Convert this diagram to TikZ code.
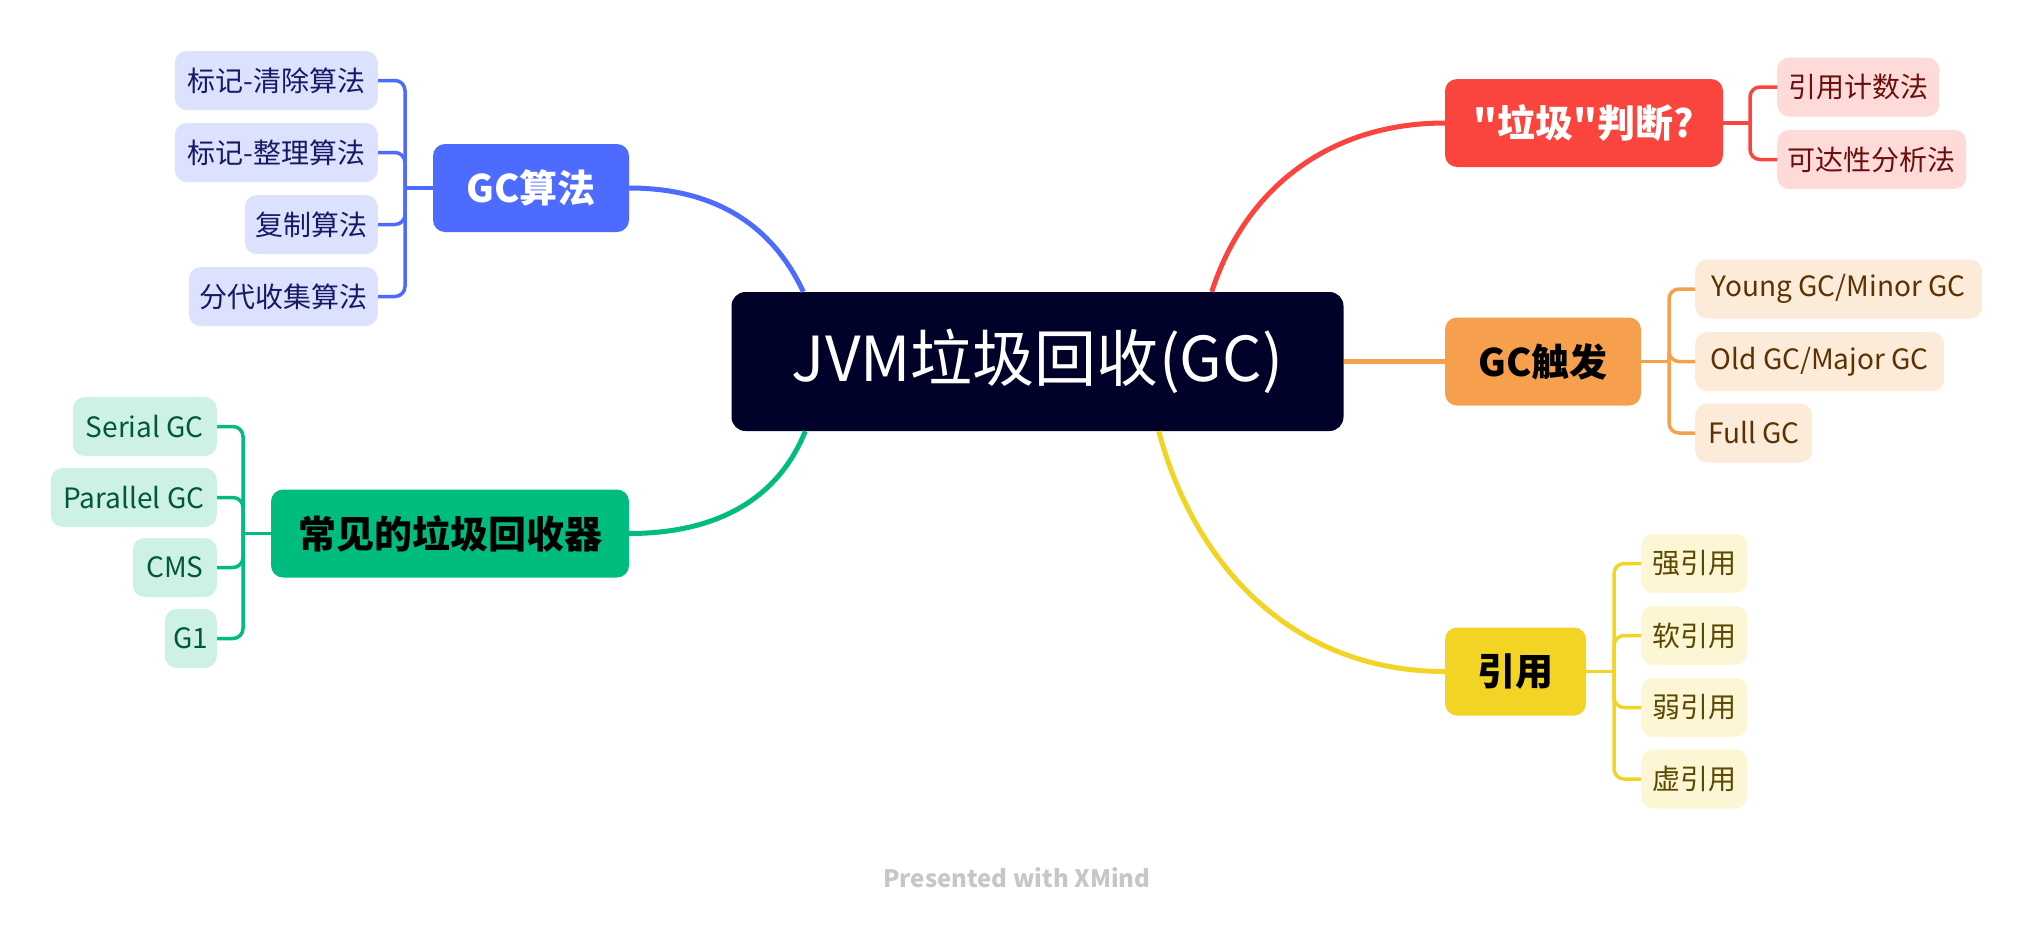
\documentclass[tikz,border=0pt]{standalone}
\usepackage{fontspec}
\setmainfont{Noto Sans CJK SC}[Ligatures=TeXOff]
\usepackage{xcolor}
\usepackage{tikz}
\usetikzlibrary{positioning}

\definecolor{rootfill}{HTML}{000229}
\definecolor{bluemain}{HTML}{4D6BFE}
\definecolor{bluelight}{HTML}{DCE1FD}
\definecolor{bluetext}{HTML}{141A66}
\definecolor{redmain}{HTML}{F9453E}
\definecolor{redlight}{HTML}{FEDAD8}
\definecolor{redtext}{HTML}{6B0F0B}
\definecolor{orangemain}{HTML}{F6A04D}
\definecolor{orangelight}{HTML}{FDEBDA}
\definecolor{orangetext}{HTML}{5C3200}
\definecolor{yellowmain}{HTML}{F2D424}
\definecolor{yellowlight}{HTML}{FCF6D5}
\definecolor{yellowtext}{HTML}{5A4A00}
\definecolor{greenmain}{HTML}{00BC7E}
\definecolor{greenlight}{HTML}{CDF2E3}
\definecolor{greentext}{HTML}{00573A}

\begin{document}
\begin{tikzpicture}[x=1pt, y=-1pt,
    root/.style={fill=rootfill, text=white, rounded corners=14pt, minimum width=612pt, minimum height=139pt, font=\fontsize{62}{70}\selectfont},
    topic/.style={rounded corners=12pt, minimum height=88pt, inner xsep=8pt, font=\fontsize{38}{44}\selectfont\bfseries},
    leaf/.style={rounded corners=12pt, minimum height=59pt, inner xsep=6pt, font=\fontsize{28}{32}\selectfont},
    branch/.style={line width=5pt},
    twig/.style={line width=3.5pt, rounded corners=10pt}]
    \fill[white] (0,0) rectangle (2034,930);
    \useasboundingbox (0,0) rectangle (2034,930);

    % Centre
    \node[root] (jvm) at (1037.5,361.5) {JVM垃圾回收(GC)};

    % Main topics
    \node[topic, fill=bluemain, text=white, minimum width=196pt] (algo) at (531,188) {GC算法};
    \node[topic, fill=greenmain, text=black, minimum width=358pt] (coll) at (450,533.5) {常见的垃圾回收器};
    \node[topic, fill=redmain, text=white, minimum width=278pt] (judge) at (1584,123) {"垃圾"判断?};
    \node[topic, fill=orangemain, text=black, minimum width=196pt] (trig) at (1543,361.5) {GC触发};
    \node[topic, fill=yellowmain, text=black, minimum width=141pt] (ref) at (1515.5,671.5) {引用};

    % Leaves left
    \node[leaf, fill=bluelight, text=bluetext, minimum width=203pt, anchor=east] (mark1) at (378,80.5) {标记-清除算法};
    \node[leaf, fill=bluelight, text=bluetext, minimum width=203pt, anchor=east] (mark2) at (378,152.5) {标记-整理算法};
    \node[leaf, fill=bluelight, text=bluetext, minimum width=133pt, anchor=east] (copy) at (378,224.5) {复制算法};
    \node[leaf, fill=bluelight, text=bluetext, minimum width=189pt, anchor=east] (gen) at (378,296.5) {分代收集算法};

    \node[leaf, fill=greenlight, text=greentext, minimum width=144pt, anchor=east] (serial) at (217,426.5) {Serial GC};
    \node[leaf, fill=greenlight, text=greentext, minimum width=166pt, anchor=east] (para) at (217,497.5) {Parallel GC};
    \node[leaf, fill=greenlight, text=greentext, minimum width=84pt, anchor=east] (cms) at (217,567.5) {CMS};
    \node[leaf, fill=greenlight, text=greentext, minimum width=52pt, anchor=east] (gone) at (217,638.5) {G1};

    % Leaves right
    \node[leaf, fill=redlight, text=redtext, minimum width=162pt, anchor=west] (count) at (1777,87) {引用计数法};
    \node[leaf, fill=redlight, text=redtext, minimum width=189pt, anchor=west] (reach) at (1777,159.5) {可达性分析法};

    \node[leaf, fill=orangelight, text=orangetext, minimum width=287pt, anchor=west] (young) at (1695,289) {Young GC/Minor GC};
    \node[leaf, fill=orangelight, text=orangetext, minimum width=249pt, anchor=west] (old) at (1695,361.5) {Old GC/Major GC};
    \node[leaf, fill=orangelight, text=orangetext, minimum width=117pt, anchor=west] (full) at (1695,433) {Full GC};

    \node[leaf, fill=yellowlight, text=yellowtext, minimum width=106pt, anchor=west] (strong) at (1641,563.5) {强引用};
    \node[leaf, fill=yellowlight, text=yellowtext, minimum width=106pt, anchor=west] (soft) at (1641,635.5) {软引用};
    \node[leaf, fill=yellowlight, text=yellowtext, minimum width=106pt, anchor=west] (weak) at (1641,707.5) {弱引用};
    \node[leaf, fill=yellowlight, text=yellowtext, minimum width=106pt, anchor=west] (phantom) at (1641,779) {虚引用};

    % Branches from the centre
    \draw[branch, bluemain] (algo.east) to[out=0, in=115] ([xshift=72pt]jvm.north west);
    \draw[branch, greenmain] ([xshift=74pt]jvm.south west) to[out=-112, in=0] (coll.east);
    \draw[branch, redmain] ([xshift=-132pt]jvm.north east) to[out=72, in=180] (judge.west);
    \draw[branch, orangemain] (jvm.east) -- (trig.west);
    \draw[branch, yellowmain] ([xshift=-185pt]jvm.south east) to[out=-75, in=180] (ref.west);

    % Brackets
    \coordinate (bj) at (405,188);
    \draw[twig, bluemain] (algo.west) -- (bj);
    \draw[twig, bluemain] (bj) |- (mark1.east);
    \draw[twig, bluemain] (bj) |- (mark2.east);
    \draw[twig, bluemain] (bj) |- (copy.east);
    \draw[twig, bluemain] (bj) |- (gen.east);

    \coordinate (gj) at (243,533.5);
    \draw[twig, greenmain] (coll.west) -- (gj);
    \draw[twig, greenmain] (gj) |- (serial.east);
    \draw[twig, greenmain] (gj) |- (para.east);
    \draw[twig, greenmain] (gj) |- (cms.east);
    \draw[twig, greenmain] (gj) |- (gone.east);

    \coordinate (rj) at (1750,123);
    \draw[twig, redmain] (judge.east) -- (rj);
    \draw[twig, redmain] (rj) |- (count.west);
    \draw[twig, redmain] (rj) |- (reach.west);

    \coordinate (oj) at (1669,361.5);
    \draw[twig, orangemain] (trig.east) -- (oj);
    \draw[twig, orangemain] (oj) |- (young.west);
    \draw[twig, orangemain] (oj) |- (old.west);
    \draw[twig, orangemain] (oj) |- (full.west);

    \coordinate (yj) at (1614,671.5);
    \draw[twig, yellowmain] (ref.east) -- (yj);
    \draw[twig, yellowmain] (yj) |- (strong.west);
    \draw[twig, yellowmain] (yj) |- (soft.west);
    \draw[twig, yellowmain] (yj) |- (weak.west);
    \draw[twig, yellowmain] (yj) |- (phantom.west);

    \node[text=black!22, font=\fontsize{24}{28}\selectfont\bfseries] (mark) at (1017,878) {Presented with XMind};
\end{tikzpicture}
\end{document}
